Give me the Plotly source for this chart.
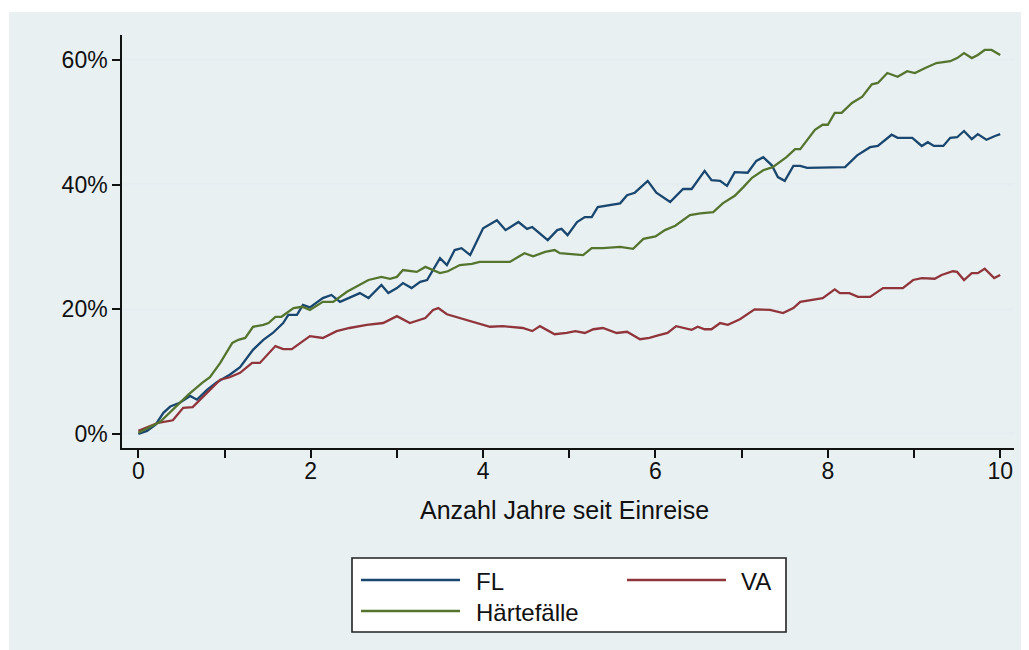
import plotly.graph_objects as go

# ---- data (years since entry, cumulative share in %) ----
fl_t = [0.0, 0.1, 0.2, 0.29, 0.37, 0.48, 0.6, 0.68, 0.8, 0.91, 1.06, 1.18, 1.33, 1.45, 1.56, 1.68,
        1.74, 1.84, 1.91, 1.99, 2.14, 2.24, 2.34, 2.57, 2.67, 2.82, 2.9, 3.0, 3.07, 3.17, 3.27,
        3.35, 3.5, 3.58, 3.67, 3.75, 3.85, 4.0, 4.16, 4.26, 4.41, 4.51, 4.57, 4.75, 4.86, 4.91,
        4.98, 5.09, 5.18, 5.26, 5.33, 5.44, 5.59, 5.67, 5.76, 5.91, 6.01, 6.17, 6.32, 6.42, 6.57,
        6.65, 6.75, 6.83, 6.92, 7.07, 7.17, 7.25, 7.35, 7.42, 7.5, 7.6, 7.68, 7.76, 8.2, 8.34,
        8.49, 8.58, 8.74, 8.81, 8.98, 9.09, 9.16, 9.23, 9.34, 9.42, 9.5, 9.58, 9.67, 9.74, 9.84,
        9.94, 10.0]
fl_v = [0.0, 0.5, 1.5, 3.4, 4.4, 5.0, 6.1, 5.5, 7.1, 8.3, 9.5, 10.7, 13.5, 15.1, 16.2, 17.8,
        19.1, 19.1, 20.7, 20.3, 21.8, 22.3, 21.2, 22.6, 21.8, 23.9, 22.6, 23.4, 24.2, 23.4, 24.4,
        24.7, 28.2, 27.1, 29.5, 29.8, 28.7, 33.0, 34.3, 32.7, 34.0, 32.9, 33.2, 31.1, 32.7, 32.9,
        31.9, 34.0, 34.8, 34.8, 36.4, 36.7, 37.0, 38.3, 38.7, 40.6, 38.7, 37.2, 39.3, 39.3, 42.2,
        40.7, 40.6, 39.8, 42.0, 41.9, 43.8, 44.4, 43.1, 41.2, 40.6, 43.0, 43.0, 42.7, 42.8, 44.7,
        46.0, 46.2, 48.0, 47.5, 47.5, 46.2, 46.8, 46.2, 46.2, 47.5, 47.6, 48.6, 47.3, 48.1, 47.2,
        47.8, 48.1]

va_t = [0.0, 0.16, 0.23, 0.4, 0.52, 0.63, 0.75, 0.87, 0.95, 1.06, 1.18, 1.32, 1.41, 1.59, 1.68,
        1.78, 1.99, 2.14, 2.3, 2.45, 2.65, 2.84, 3.0, 3.15, 3.33, 3.42, 3.48, 3.58, 3.81, 4.08,
        4.23, 4.46, 4.57, 4.66, 4.83, 4.97, 5.07, 5.18, 5.28, 5.39, 5.55, 5.67, 5.82, 5.93, 6.03,
        6.14, 6.24, 6.42, 6.49, 6.57, 6.65, 6.75, 6.84, 6.98, 7.15, 7.33, 7.48, 7.6, 7.68, 7.83,
        7.94, 8.08, 8.14, 8.25, 8.35, 8.49, 8.64, 8.87, 8.99, 9.09, 9.24, 9.32, 9.45, 9.5, 9.58,
        9.67, 9.74, 9.82, 9.93, 10.0]
va_v = [0.5, 1.4, 1.8, 2.2, 4.2, 4.3, 5.9, 7.5, 8.7, 9.1, 9.8, 11.4, 11.4, 14.1, 13.6,
        13.6, 15.7, 15.4, 16.5, 17.0, 17.5, 17.8, 18.9, 17.8, 18.6, 19.9, 20.2, 19.2, 18.3, 17.2,
        17.3, 17.0, 16.5, 17.3, 16.0, 16.2, 16.5, 16.2, 16.8, 17.0, 16.2, 16.4, 15.2, 15.4, 15.8,
        16.2, 17.3, 16.7, 17.2, 16.8, 16.8, 17.8, 17.5, 18.4, 20.0, 19.9, 19.4, 20.2, 21.2, 21.5,
        21.8, 23.2, 22.6, 22.6, 22.0, 22.0, 23.4, 23.4, 24.7, 25.0, 24.9, 25.5, 26.1, 26.0, 24.7,
        25.8, 25.8, 26.5, 25.0, 25.5]

hf_t = [0.0, 0.25, 0.58, 0.74, 0.83, 0.95, 1.09, 1.16, 1.24, 1.33, 1.45, 1.51, 1.59, 1.66, 1.8,
        1.9, 1.99, 2.14, 2.26, 2.42, 2.67, 2.82, 2.92, 3.0, 3.07, 3.23, 3.33, 3.5, 3.59, 3.73,
        3.87, 3.96, 4.31, 4.48, 4.58, 4.72, 4.83, 4.89, 5.16, 5.26, 5.39, 5.59, 5.74, 5.86, 6.0,
        6.11, 6.23, 6.4, 6.52, 6.67, 6.78, 6.92, 7.02, 7.12, 7.25, 7.36, 7.52, 7.62, 7.68, 7.79,
        7.85, 7.94, 8.0, 8.08, 8.16, 8.28, 8.4, 8.51, 8.58, 8.69, 8.81, 8.92, 9.01, 9.13, 9.26,
        9.42, 9.5, 9.58, 9.67, 9.74, 9.82, 9.9, 10.0]
hf_v = [0.2, 1.9, 6.3, 8.2, 9.1, 11.4, 14.6, 15.1, 15.4, 17.2, 17.5, 17.8, 18.8, 18.8, 20.2,
        20.4, 19.9, 21.2, 21.2, 22.8, 24.7, 25.2, 24.9, 25.2, 26.3, 26.0, 26.8, 25.8, 26.1, 27.1,
        27.3, 27.6, 27.6, 29.0, 28.5, 29.2, 29.5, 29.0, 28.7, 29.8, 29.8, 30.0, 29.7, 31.3, 31.7,
        32.7, 33.4, 35.1, 35.4, 35.6, 37.0, 38.2, 39.6, 41.1, 42.3, 42.8, 44.4, 45.7, 45.7, 47.6,
        48.8, 49.6, 49.6, 51.5, 51.5, 53.1, 54.1, 56.1, 56.3, 57.9, 57.3, 58.2, 57.9, 58.7, 59.5,
        59.8, 60.3, 61.1, 60.3, 60.8, 61.6, 61.6, 60.8]

series_names = ["FL", "VA", "Härtefälle"]
x_tickvals = [0, 1, 2, 3, 4, 5, 6, 7, 8, 9, 10]
x_ticktext = ["0", "", "2", "", "4", "", "6", "", "8", "", "10"]
y_tickvals = [0, 20, 40, 60]
y_ticktext = ["0%", "20%", "40%", "60%"]
x_title = "Anzahl Jahre seit Einreise"

NAVY = "#1a476f"
MAROON = "#90353b"
GREEN = "#55752f"
BG = "#e8f0f2"
GRID = "#e6eef1"
FONT = "Liberation Sans, Arial, sans-serif"
TXT = "#111111"

fig = go.Figure()
for t, v, name, col in [(fl_t, fl_v, series_names[0], NAVY),
                        (va_t, va_v, series_names[1], MAROON),
                        (hf_t, hf_v, series_names[2], GREEN)]:
    fig.add_trace(go.Scatter(x=t, y=v, mode="lines", name=name,
                             line=dict(color=col, width=2.3), showlegend=False))

# the page body has an 8px margin; design coordinates below are window pixels
OFF = 8
L, R, T, B = 122, 1014, 35, 448          # plot area in window pixels
W, H = R - L, B - T
def px(x):
    return (x - L) / W
def py(y):
    return (B - y) / H

shapes = [
    # graph region background (light bluish)
    dict(type="rect", xref="paper", yref="paper", x0=px(9), x1=px(1040), y0=py(660), y1=py(12),
         fillcolor=BG, line=dict(width=0), layer="below"),
    # legend box
    dict(type="rect", xref="paper", yref="paper", x0=px(352), x1=px(786), y0=py(632), y1=py(558),
         fillcolor="white", line=dict(color="#222222", width=1.6), layer="above"),
    dict(type="line", xref="paper", yref="paper", x0=px(361), x1=px(460), y0=py(580), y1=py(580),
         line=dict(color=NAVY, width=2.3)),
    dict(type="line", xref="paper", yref="paper", x0=px(627), x1=px(726), y0=py(580), y1=py(580),
         line=dict(color=MAROON, width=2.3)),
    dict(type="line", xref="paper", yref="paper", x0=px(361), x1=px(460), y0=py(611), y1=py(611),
         line=dict(color=GREEN, width=2.3)),
]

annotations = [
    dict(text=x_title, xref="paper", yref="paper", x=px(564), y=py(510), showarrow=False,
         xanchor="center", yanchor="middle", font=dict(size=25, color=TXT, family=FONT)),
    dict(text=series_names[0], xref="paper", yref="paper", x=px(474), y=py(581), showarrow=False,
         xanchor="left", yanchor="middle", font=dict(size=24, color=TXT, family=FONT)),
    dict(text=series_names[1], xref="paper", yref="paper", x=px(739), y=py(581), showarrow=False,
         xanchor="left", yanchor="middle", font=dict(size=24, color=TXT, family=FONT)),
    dict(text=series_names[2], xref="paper", yref="paper", x=px(474), y=py(612), showarrow=False,
         xanchor="left", yanchor="middle", font=dict(size=24, color=TXT, family=FONT)),
]

fig.update_layout(
    width=1029 - OFF, height=650 - OFF, autosize=False,
    margin=dict(l=L - OFF, r=1029 - R, t=T - OFF, b=650 - B, pad=0),
    paper_bgcolor="white", plot_bgcolor="white",
    font=dict(family=FONT, size=23, color=TXT),
    shapes=shapes, annotations=annotations,
    showlegend=False,
)
fig.update_xaxes(range=[-0.19, 10.16], tickvals=x_tickvals, ticktext=x_ticktext,
                 ticks="outside", ticklen=8, tickwidth=1.5, tickcolor=TXT,
                 showline=True, linecolor=TXT, linewidth=1.5, ticklabelstandoff=-6,
                 showgrid=False, zeroline=False, tickfont=dict(size=23))
fig.update_yaxes(range=[-2.25, 64.0], tickvals=y_tickvals, ticktext=y_ticktext,
                 ticks="outside", ticklen=8, tickwidth=1.5, tickcolor=TXT,
                 showline=True, linecolor=TXT, linewidth=1.5,
                 showgrid=True, gridcolor=GRID, gridwidth=2.5, zeroline=False,
                 tickfont=dict(size=23))

fig.write_html("out.html")
